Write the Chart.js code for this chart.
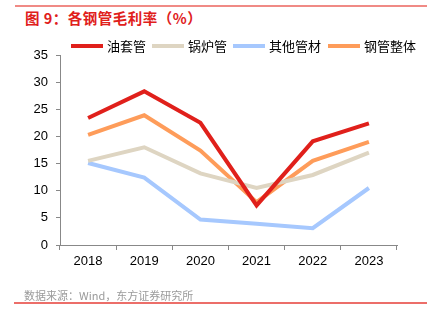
<!DOCTYPE html>
<html><head><meta charset="utf-8">
<script src="https://cdn.jsdelivr.net/npm/chart.js@4/dist/chart.umd.min.js"></script>
<style>
html,body{margin:0;padding:0;background:#fff;width:432px;height:322px;overflow:hidden;}
#wrap{position:absolute;left:0;top:0;width:432px;height:322px;}
#title{position:absolute;left:25px;top:7px;font:bold 14.5px "Noto Sans CJK SC";color:#e0201b;white-space:nowrap;letter-spacing:0.5px;}
#topline{position:absolute;left:15px;top:5px;width:412px;height:2px;background:#f08a85;}
#botline{position:absolute;left:14px;top:302px;width:413px;height:2px;background:#ec6e69;}
#source{position:absolute;left:24px;top:287px;font:11px "Noto Sans CJK SC";color:#9a9a9a;white-space:nowrap;}
.lg{position:absolute;top:37px;height:18px;white-space:nowrap;font:13px "Noto Sans CJK SC";color:#000;line-height:18px;}
.lg i{position:absolute;left:0;top:7px;width:32px;height:4px;}
.lg span{position:absolute;left:36px;top:0;}
</style></head>
<body>
<div id="topline"></div>
<div id="title">图 9：各钢管毛利率（%）</div>
<div id="wrap"><canvas id="c" width="432" height="322"></canvas></div>
<div id="legend"></div>
<div id="source">数据来源：Wind，东方证券研究所</div>
<div id="botline"></div>
<script>
const categories = ['2018','2019','2020','2021','2022','2023'];
const seriesNames = ['油套管','锅炉管','其他管材','钢管整体'];
const oilCasing = [23.4, 28.3, 22.5, 7.3, 19.1, 22.4];
const boilerTube = [15.5, 18.0, 13.2, 10.5, 12.9, 17.0];
const otherTube = [15.1, 12.4, 4.7, 3.9, 3.1, 10.5];
const steelTotal = [20.3, 23.9, 17.4, 7.9, 15.5, 19.0];
const yTicks = [0,5,10,15,20,25,30,35];

const colors = ['#e0201b','#ded5c2','#a6c8fe','#fe9c5a'];
const values = [oilCasing, boilerTube, otherTube, steelTotal];
const legendLeft = [71, 152, 233, 328];

const lg = document.getElementById('legend');
seriesNames.forEach((n,i)=>{
  const d = document.createElement('div');
  d.className = 'lg'; d.style.left = legendLeft[i] + 'px';
  const b = document.createElement('i'); b.style.background = colors[i];
  const s = document.createElement('span'); s.textContent = n;
  d.appendChild(b); d.appendChild(s); lg.appendChild(d);
});

new Chart(document.getElementById('c'), {
  type: 'line',
  data: {
    labels: categories,
    datasets: seriesNames.map((n,i)=>({
      label: n, data: values[i], borderColor: colors[i], backgroundColor: colors[i],
      borderWidth: 4, pointRadius: 0, tension: 0, fill: false
    }))
  },
  options: {
    responsive: false, animation: false,
    layout: {padding: {left: 15, right: 35, top: 55, bottom: 47}},
    plugins: {
      legend: {display: false},
      tooltip: {enabled: false}
    },
    scales: {
      x: {
        offset: true,
        grid: {display: true, drawOnChartArea: false, drawTicks: true, tickLength: 5, color: '#888', offset: true},
        border: {color: '#888', width: 1},
        ticks: {color: '#000', font: {family: '"Liberation Sans"', size: 13}, padding: 4, maxRotation: 0},
        afterFit: s => { s.height = 30; }
      },
      y: {
        min: 0, max: 35,
        afterBuildTicks: s => { s.ticks = yTicks.map(v=>({value:v})); },
        grid: {display: true, drawOnChartArea: false, drawTicks: true, tickLength: 4, color: '#888'},
        border: {color: '#888', width: 1},
        ticks: {color: '#000', font: {family: '"Liberation Sans"', size: 13}, padding: 8},
        afterFit: s => { s.width = 45; }
      }
    }
  }
});
</script>
</body></html>
